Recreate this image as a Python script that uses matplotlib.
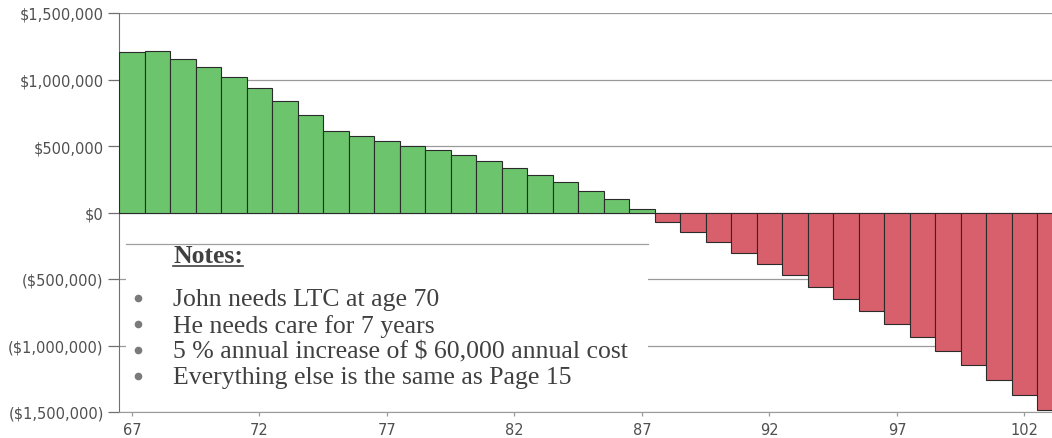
import matplotlib.pyplot as plt
from matplotlib.lines import Line2D

plt.rcParams['font.family'] = ['DejaVu Sans']

# Projected balance by age
ages = list(range(67, 104))
balances = [1206000, 1214000, 1156000, 1091000, 1020000, 937000, 841000, 733000,
            614000, 574000, 534000, 503000, 469000, 431000, 385000, 335000,
            280000, 227000, 163000, 100000, 30000,
            -70000, -145000, -222000, -302000, -387000, -470000, -557000,
            -650000, -742000, -840000, -937000, -1040000, -1147000, -1259000,
            -1370000, -1484000]

yticks = [1500000, 1000000, 500000, 0, -500000, -1000000, -1500000]
ytick_labels = ['$1,500,000', '$1,000,000', '$500,000', '$0',
                '($500,000)', '($1,000,000)', '($1,500,000)']
xticks = [67, 72, 77, 82, 87, 92, 97, 102]

notes_title = 'Notes:'
notes = ['John needs LTC at age 70',
         'He needs care for 7 years',
         '5 % annual increase of $ 60,000 annual cost',
         'Everything else is the same as Page 15']

W, H = 1052, 439
fig = plt.figure(figsize=(W / 100, H / 100), dpi=100)
fig.patch.set_facecolor('white')
ax = fig.add_axes([119 / W, 26 / H, (W - 119) / W, 399 / H])

colors = ['#6cc46c' if b >= 0 else '#d8606c' for b in balances]
ax.bar(ages, balances, width=1.0, color=colors, edgecolor='#2b2b2b',
       linewidth=0.8, zorder=3)

ax.set_xlim(66.49, 103.08)
ax.set_ylim(-1500000, 1500000)
ax.set_yticks(yticks)
ax.set_yticklabels(ytick_labels)
ax.set_xticks(xticks)

ax.grid(axis='y', color='#9a9a9a', linewidth=0.9, zorder=0)
ax.set_axisbelow(True)
for s in ['top', 'right']:
    ax.spines[s].set_visible(False)
ax.spines['left'].set_color('#707070')
ax.spines['bottom'].set_color('#9a9a9a')
ax.tick_params(axis='y', length=8, width=0.9, color='#707070', pad=3,
               labelsize=10.5, labelcolor='#505050')
ax.tick_params(axis='x', length=3, width=0.9, color='#9a9a9a', pad=4,
               labelsize=10.5, labelcolor='#505050')

# pasted notes box (white, covers gridlines)
box = plt.Rectangle((0.0075, 0.012), 0.5595, 0.409, transform=ax.transAxes,
                    facecolor='white', edgecolor='none', zorder=4)
ax.add_patch(box)
ax.plot([0.0075, 0.5665], [0.421, 0.421], transform=ax.transAxes,
        color='#a0a0a0', linewidth=0.9, zorder=5)

serif = ['Liberation Serif', 'DejaVu Serif']
t = ax.text(0.0579, 0.391, notes_title, transform=ax.transAxes, family=serif,
            fontsize=18.5, fontweight='bold', color='#404040', va='center',
            ha='left', zorder=6)

note_y = [0.283, 0.218, 0.153, 0.088]
ax.plot([0.0204] * len(note_y), [y + 0.003 for y in note_y], 'o',
        transform=ax.transAxes, color='#7a7a7a', markersize=5.5,
        markeredgewidth=0, zorder=6)
for y, line in zip(note_y, notes):
    ax.text(0.0579, y, line, transform=ax.transAxes, family=serif,
            fontsize=18.5, color='#404040', va='center', ha='left', zorder=6)

# underline the title
fig.canvas.draw()
bb = t.get_window_extent().transformed(fig.transFigure.inverted())
fig.add_artist(Line2D([bb.x0, bb.x1], [bb.y0 + 0.004, bb.y0 + 0.004],
                      transform=fig.transFigure, color='#404040', linewidth=1.2))

fig.savefig('out.png', dpi=100, facecolor='white')
